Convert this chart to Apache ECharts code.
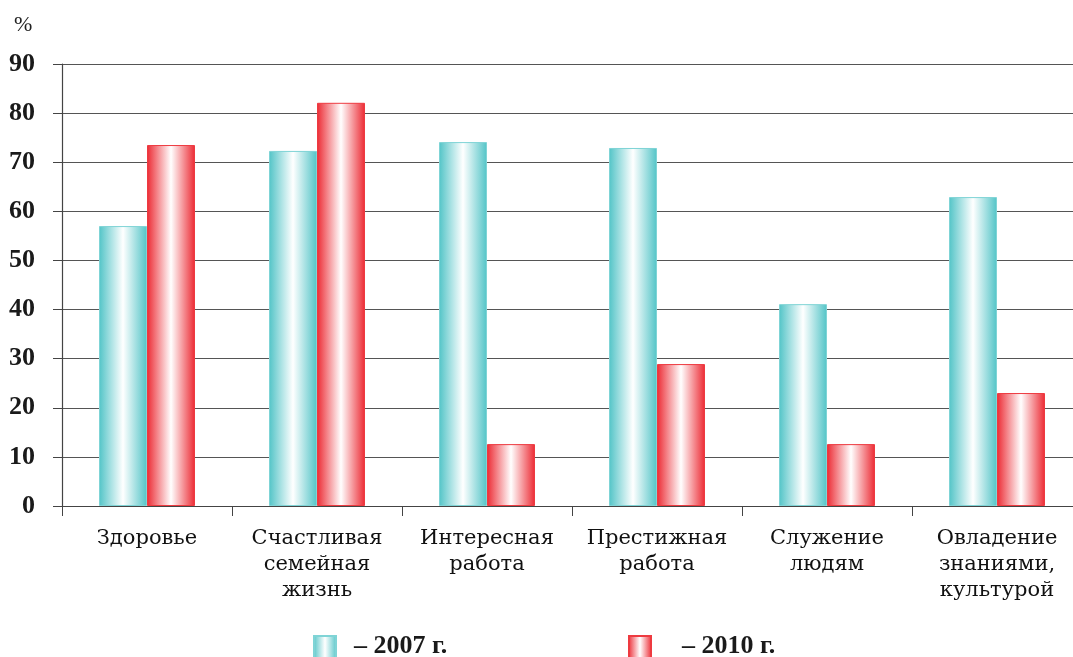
<!DOCTYPE html>
<html lang="ru">
<head>
    <meta charset="UTF-8">
    <script src="https://cdn.jsdelivr.net/npm/echarts@6/dist/echarts.min.js"></script>
    <style>
        html, body { margin: 0; padding: 0; background: #fff; overflow: hidden; }
        #chart { width: 1090px; height: 657px; }
    </style>
</head>
<body>
<div id="chart"></div>
<script>
    var categories = ['Здоровье', 'Счастливая\nсемейная\nжизнь', 'Интересная\nработа', 'Престижная\nработа', 'Служение\nлюдям', 'Овладение\nзнаниями,\nкультурой'];
    var yTicks = [0, 10, 20, 30, 40, 50, 60, 70, 80, 90];
    var data2007 = [57, 72.3, 74.1, 72.9, 41.1, 62.9];
    var data2010 = [73.5, 82.1, 12.6, 28.9, 12.6, 23];

    var font = '"DejaVu Serif", "Liberation Serif", serif';
    var numFont = '"Liberation Serif", "DejaVu Serif", serif';

    function grad(edge) {
        return new echarts.graphic.LinearGradient(0, 0, 1, 0, [
            {offset: 0, color: edge},
            {offset: 0.5, color: '#ffffff'},
            {offset: 1, color: edge}
        ]);
    }

    // text a bit higher than the icon, like in the original
    var legendText = {
        fontFamily: numFont, fontSize: 26, fontWeight: 'bold', color: '#1a1a1a',
        rich: {
            t: {fontFamily: numFont, fontSize: 26, fontWeight: 'bold', color: '#1a1a1a', padding: [0, 0, 6, 0]}
        }
    };

    var chart = echarts.init(document.getElementById('chart'));
    var option = {
        animation: false,
        textStyle: {fontFamily: font},
        grid: {left: 62, top: 64, width: 1020, height: 442, containLabel: false},
        graphic: [{
            type: 'text', left: 14, top: 14,
            style: {text: '%', font: '22px ' + numFont, fill: '#222'}
        }],
        legend: [{
            left: 308, top: 628,
            itemWidth: 22, itemHeight: 26, icon: 'rect',
            data: ['2007'],
            formatter: function (n) { return '{t|  – ' + n + ' г.}'; },
            textStyle: legendText
        }, {
            left: 623, top: 628,
            itemWidth: 22, itemHeight: 26, icon: 'rect',
            data: ['2010'],
            formatter: function (n) { return '{t|    – ' + n + ' г.}'; },
            textStyle: legendText
        }],
        xAxis: {
            type: 'category',
            data: categories,
            axisLine: {lineStyle: {color: '#444', width: 1.2}},
            axisTick: {show: true, length: 10, lineStyle: {color: '#444'}},
            axisLabel: {
                margin: 20, fontSize: 21, lineHeight: 26, color: '#111',
                fontFamily: font, interval: 0
            }
        },
        yAxis: {
            type: 'value',
            min: 0, max: 90, interval: 10,
            axisLine: {show: true, lineStyle: {color: '#444', width: 1.2}},
            axisTick: {show: true, length: 9, lineStyle: {color: '#444'}},
            splitLine: {lineStyle: {color: '#555', width: 1.2}},
            axisLabel: {
                margin: 27, fontSize: 26, fontWeight: 'bold', color: '#1a1a1a', fontFamily: numFont,
                formatter: function (v) { return yTicks.indexOf(v) >= 0 ? String(v) : ''; }
            }
        },
        series: [
            {
                name: '2007', type: 'bar', barWidth: 48, barGap: '0%',
                data: data2007,
                itemStyle: {color: grad('#52c4c7'), borderColor: '#7fd4d6', borderWidth: 1}
            },
            {
                name: '2010', type: 'bar', barWidth: 48,
                data: data2010,
                itemStyle: {color: grad('#ec2a33'), borderColor: '#ee3a40', borderWidth: 1}
            }
        ]
    };
    chart.setOption(option);
</script>
</body>
</html>
